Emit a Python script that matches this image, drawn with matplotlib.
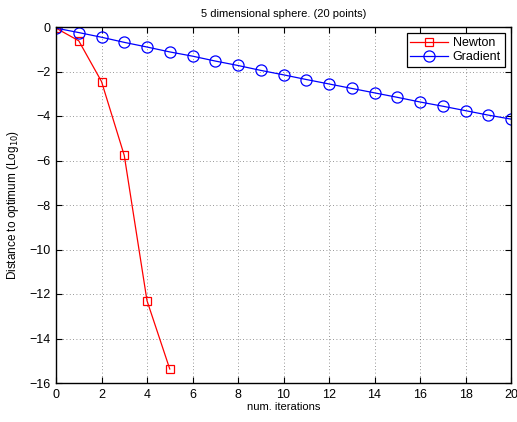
import matplotlib
matplotlib.use("Agg")
import matplotlib.pyplot as plt
import numpy as np

plt.rcParams['font.family'] = ['Liberation Sans', 'DejaVu Sans']
plt.rcParams['axes.unicode_minus'] = True

newton_x = [0, 1, 2, 3, 4, 5]
newton_y = [-0.05, -0.62, -2.45, -5.77, -12.3, -15.37]

grad_x = list(range(21))
grad_y = [-0.05, -0.25, -0.46, -0.69, -0.9, -1.12, -1.31, -1.53, -1.73, -1.95,
          -2.15, -2.36, -2.56, -2.76, -2.96, -3.16, -3.37, -3.56, -3.76, -3.96, -4.14]

xticks = list(range(0, 21, 2))
yticks = list(range(-16, 1, 2))

fig = plt.figure(figsize=(5.17, 4.22), dpi=100)
ax = fig.add_axes([56/517, 1 - 383/422, (511-56)/517, (383-27)/422])

ax.plot(newton_x, newton_y, color='red', marker='s', markerfacecolor='none',
        markersize=6, linewidth=0.9, markeredgewidth=0.9, label='Newton')
ax.plot(grad_x, grad_y, color='blue', marker='o', markerfacecolor='none',
        markersize=8, linewidth=0.9, markeredgewidth=0.9, label='Gradient')

ax.set_xlim(0, 20)
ax.set_ylim(-16, 0)
ax.set_xticks(xticks)
ax.set_yticks(yticks)
ax.tick_params(direction='in', top=True, right=True, labelsize=9, length=4, width=0.8, pad=4)
ax.grid(True, linestyle=(0, (1, 3)), color='black', linewidth=0.6, alpha=0.55)
for s in ax.spines.values():
    s.set_linewidth(1.0)

ax.set_title('5 dimensional sphere. (20 points)', fontsize=8, pad=7)
ax.set_xlabel('num. iterations', fontsize=8, labelpad=1)
ax.set_ylabel('Distance to optimum (Log$_{10}$)', fontsize=8.5, labelpad=6)

leg = ax.legend(loc='upper right', fontsize=9, fancybox=False, framealpha=1,
                edgecolor='black', borderaxespad=0.5, handlelength=3.0,
                borderpad=0.3, labelspacing=0.2, handletextpad=0.4)
leg.get_frame().set_linewidth(0.9)

fig.savefig('out.png', dpi=100)
